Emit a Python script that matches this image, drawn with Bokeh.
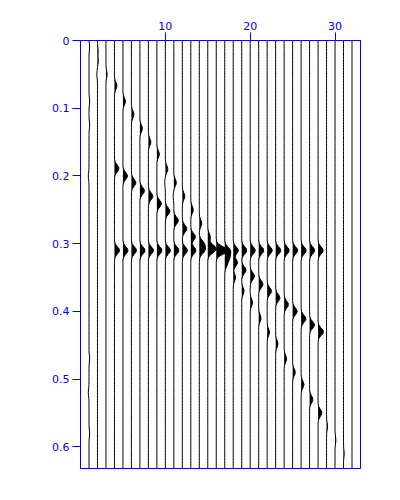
import numpy as np
from bokeh.plotting import figure
from bokeh.models import Range1d, FixedTicker, CustomJSTickFormatter
from bokeh.embed import file_html
from bokeh.resources import INLINE

# ---- data ----
trace_numbers = list(range(1, 33))
t_end = 0.632
dt = 0.004

# flat event
flat_traces = [4, 5, 6, 7, 8, 9, 10, 11, 12, 13, 14, 15, 16, 17, 18, 19, 20, 21, 22, 23, 24, 25, 26, 27, 28]
flat_time = 0.31
flat_amps = [0.62, 0.62, 0.62, 0.62, 0.62, 0.62, 0.62, 0.62, 0.62, 0.62, 0.62, 0.62, 0.62,
             0.62, 0.62, 0.62, 0.62, 0.62, 0.62, 0.62, 0.62, 0.62, 0.62, 0.62, 0.62]

# steep dipping event
steep_traces = [1, 2, 3, 4, 5, 6, 7, 8, 9, 10, 11, 12, 13, 14, 15, 16,
                17, 18, 19, 20, 21, 22, 23, 24, 25, 26, 27, 28, 29, 30, 31]
steep_times = [0.01, 0.03, 0.05, 0.067, 0.09, 0.109, 0.13, 0.15, 0.168, 0.19, 0.21, 0.23, 0.25, 0.27, 0.29, 0.31,
               0.33, 0.35, 0.37, 0.387, 0.41, 0.431, 0.448, 0.47, 0.49, 0.508, 0.53, 0.55, 0.57, 0.59, 0.61]
steep_amps = [0.08, 0.10, 0.14, 0.30, 0.30, 0.30, 0.30, 0.30, 0.30, 0.30, 0.30, 0.30, 0.30, 0.30, 0.30, 0.30,
              0.28, 0.28, 0.28, 0.28, 0.28, 0.28, 0.28, 0.30, 0.32, 0.34, 0.40, 0.46, 0.12, 0.10, 0.08]

# gentle dipping event
gentle_traces = [4, 5, 6, 7, 8, 9, 10, 11, 12, 13, 14, 15, 16, 17, 18, 19, 20, 21, 22, 23, 24, 25, 26, 27, 28]
gentle_times = [0.189, 0.20, 0.21, 0.222, 0.23, 0.241, 0.252, 0.266, 0.278, 0.29, 0.30, 0.305, 0.31,
                0.32, 0.328, 0.339, 0.348, 0.36, 0.37, 0.38, 0.39, 0.40, 0.411, 0.42, 0.43]
gentle_amps = [0.55, 0.55, 0.55, 0.55, 0.55, 0.55, 0.55, 0.55, 0.55, 0.55, 0.55, 0.55, 0.55,
               0.52, 0.52, 0.52, 0.52, 0.52, 0.52, 0.52, 0.52, 0.55, 0.58, 0.60, 0.66]

# small jitter bumps seen on some traces
jit_traces = [1, 1, 1, 1, 1, 1, 2, 2, 10, 11]
jit_times = [0.09, 0.125, 0.20, 0.47, 0.52, 0.58, 0.015, 0.05, 0.21, 0.23]
jit_amps = [0.08, 0.08, -0.08, 0.08, -0.08, 0.08, 0.08, -0.08, -0.08, -0.08]

# ---- build traces ----
t = np.arange(0.0, t_end + dt / 2, dt)
sigma = 0.005
signals = {k: np.zeros_like(t) for k in trace_numbers}


def add_events(trs, times, amps):
    for k, t0, a in zip(trs, times, amps):
        signals[k] += a * np.exp(-((t - t0) ** 2) / (2 * sigma ** 2))


add_events(flat_traces, [flat_time] * len(flat_traces), flat_amps)
add_events(steep_traces, steep_times, steep_amps)
add_events(gentle_traces, gentle_times, gentle_amps)
add_events(jit_traces, jit_times, jit_amps)

p = figure(width=392, height=492, x_range=Range1d(0, 33), y_range=Range1d(t_end, 0),
           output_backend="svg", toolbar_location=None, x_axis_location="above",
           min_border_left=80, min_border_right=32, min_border_top=40, min_border_bottom=24)

xs_list, ys_list = [], []
for k in trace_numbers:
    s = signals[k]
    xs_list.append(list(k + s))
    ys_list.append(list(t))
    p.harea(x1=np.full_like(t, k), x2=k + np.maximum(s, 0), y=t, fill_color="black", fill_alpha=1)

p.multi_line(xs=xs_list, ys=ys_list, line_color="black", line_width=1)

blue = "#0000ff"
p.xaxis.ticker = FixedTicker(ticks=[10, 20, 30])
p.yaxis.ticker = FixedTicker(ticks=[0, 0.1, 0.2, 0.3, 0.4, 0.5, 0.6])
p.yaxis.formatter = CustomJSTickFormatter(code="return tick == 0 ? '0' : tick.toFixed(1);")
for ax in p.axis:
    ax.axis_line_color = blue
    ax.major_tick_line_color = blue
    ax.major_tick_out = 8
    ax.major_tick_in = 0
    ax.minor_tick_line_color = None
    ax.major_label_text_color = blue
    ax.major_label_text_font = "DejaVu Sans"
    ax.major_label_text_font_size = "11px"
    ax.major_label_standoff = 3
p.grid.visible = False
p.outline_line_color = blue
p.outline_line_alpha = 1
p.outline_line_width = 1
p.background_fill_color = "white"
p.border_fill_color = "white"

open("out.html", "w").write(file_html(p, INLINE))
